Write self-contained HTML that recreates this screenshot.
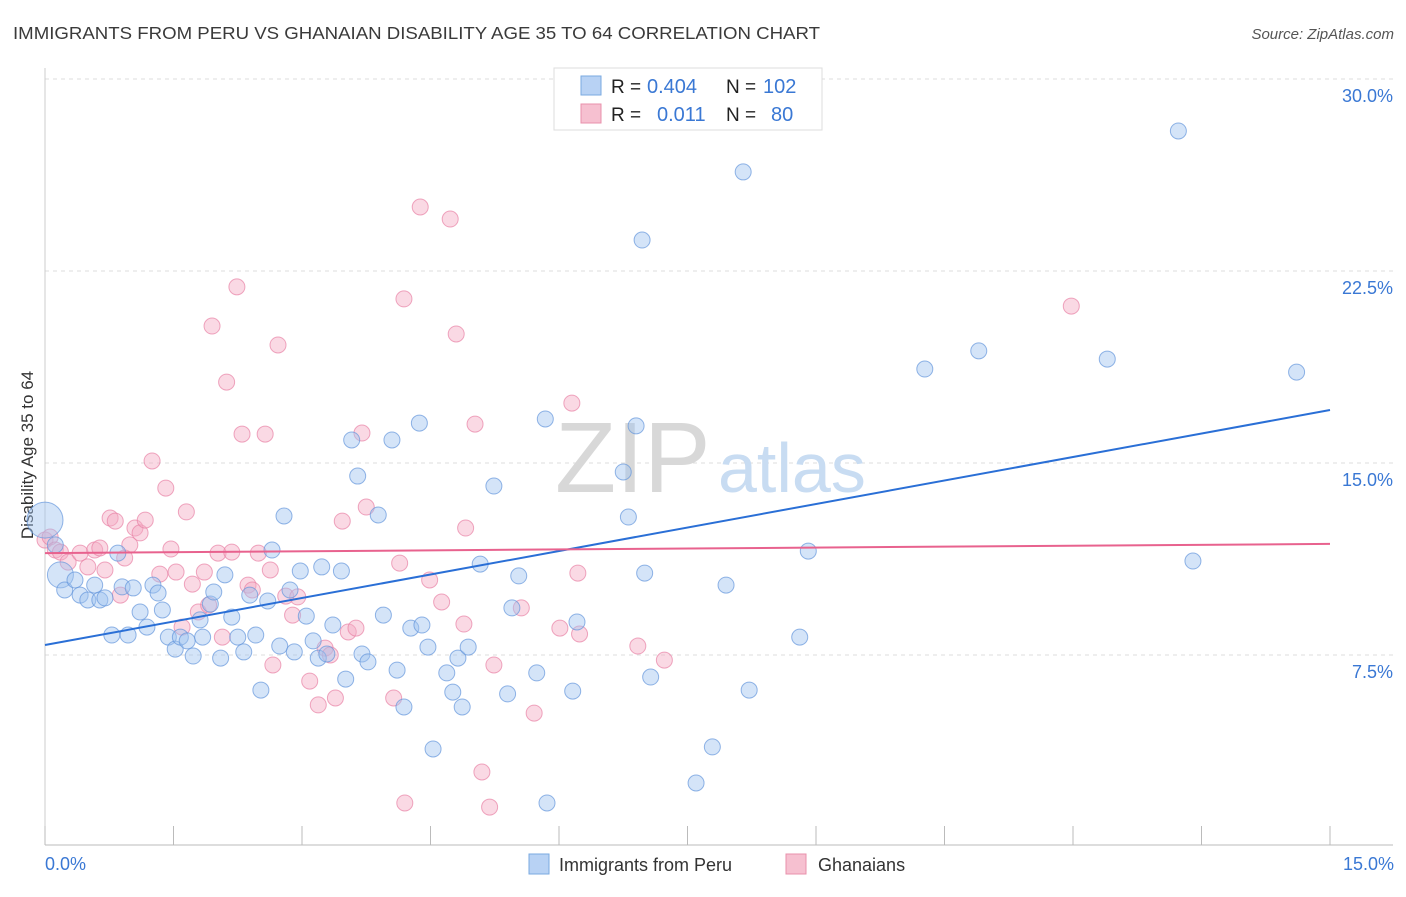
<!DOCTYPE html>
<html><head><meta charset="utf-8"><style>
body{margin:0;background:#fff;font-family:"Liberation Sans",sans-serif}
svg text{font-family:"Liberation Sans",sans-serif}
</style></head><body>
<svg id="chart" width="1406" height="892">
<text x="13" y="39" font-size="17.5" fill="#3a3a3a" textLength="807" lengthAdjust="spacingAndGlyphs">IMMIGRANTS FROM PERU VS GHANAIAN DISABILITY AGE 35 TO 64 CORRELATION CHART</text>
<text x="1394" y="39" font-size="15" fill="#555" font-style="italic" text-anchor="end">Source: ZipAtlas.com</text>
<text x="0" y="0" font-size="17" fill="#333" text-anchor="middle" transform="translate(33,455) rotate(-90)">Disability Age 35 to 64</text>
<g id="grid"></g>
<text x="555" y="492" font-size="100" fill="#d8d8d8" font-family="Liberation Serif">ZIP</text>
<text x="718" y="492" font-size="70" fill="#c8dcf2">atlas</text>
<g id="pts"></g>
<g id="lines"></g>
<g>
<rect x="554" y="68" width="268" height="62" fill="#fff" stroke="#ddd"/>
<rect x="581" y="76" width="20" height="19" fill="#b8d2f4" stroke="#7aaae0"/>
<rect x="581" y="104" width="20" height="19" fill="#f6c0d0" stroke="#e890ab"/>
<text x="611" y="93" font-size="19" fill="#222">R =</text>
<text x="647" y="93" font-size="20" fill="#3a78d4">0.404</text>
<text x="726" y="93" font-size="19" fill="#222">N =</text>
<text x="763" y="93" font-size="20" fill="#3a78d4">102</text>
<text x="611" y="121" font-size="19" fill="#222">R =</text>
<text x="657" y="121" font-size="20" fill="#3a78d4">0.011</text>
<text x="726" y="121" font-size="19" fill="#222">N =</text>
<text x="771" y="121" font-size="20" fill="#3a78d4">80</text>
</g>
<g>
<rect x="529" y="854" width="20" height="20" fill="#b8d2f4" stroke="#7aaae0"/>
<text x="559" y="871" font-size="18" fill="#333">Immigrants from Peru</text>
<rect x="786" y="854" width="20" height="20" fill="#f6c0d0" stroke="#e890ab"/>
<text x="818" y="871" font-size="18" fill="#333">Ghanaians</text>
</g>
</svg>
<script>
const yTicks=[7.5,15,22.5,30];
const yTickLabels=["7.5%","15.0%","22.5%","30.0%"];
const xTicks=[0,1.5,3,4.5,6,7.5,9,10.5,12,13.5,15];
const peruX=[0,.12,.18,.23,.35,.41,.5,.58,.64,.7,.78,.85,.9,.97,1.03,1.11,1.19,1.26,1.32,1.37,1.44,1.52,1.58,1.66,1.73,1.81,1.84,1.93,1.97,2.05,2.1,2.18,2.25,2.32,2.39,2.46,2.52,2.6,2.65,2.74,2.79,2.86,2.91,2.98,3.05,3.13,3.19,3.23,3.29,3.36,3.46,3.51,3.58,3.65,3.7,3.77,3.89,3.95,4.05,4.11,4.19,4.27,4.37,4.4,4.47,4.53,4.69,4.76,4.82,4.87,4.94,5.08,5.24,5.4,5.45,5.53,5.74,5.84,5.86,6.16,6.21,6.75,6.81,6.9,6.97,7,7.07,7.6,7.79,7.95,8.15,8.22,8.81,8.91,10.27,10.9,12.4,13.23,13.4,14.61];
const peruY=[12.77,11.8,10.63,10.04,10.43,9.84,9.65,10.23,9.65,9.73,8.28,11.48,10.16,8.28,10.12,9.18,8.59,10.23,9.92,9.26,8.2,7.73,8.2,8.05,7.46,8.87,8.2,9.49,9.96,7.38,10.63,8.98,8.2,7.62,9.84,8.28,6.13,9.61,11.6,7.85,12.93,10.04,7.62,10.78,9.02,8.05,7.38,10.94,7.54,8.67,10.78,6.56,15.9,14.49,7.54,7.23,12.97,9.06,15.9,6.91,5.47,8.55,16.56,8.67,7.81,3.83,6.8,6.05,7.38,5.47,7.81,11.05,14.1,5.98,9.34,10.59,6.8,16.72,1.72,6.09,8.79,14.65,12.89,16.45,23.71,10.7,6.64,2.5,3.91,10.23,26.37,6.13,8.2,11.56,18.67,19.38,19.06,27.97,11.17,18.55];
const ghX=[0,.06,.12,.18,.27,.41,.5,.58,.64,.7,.76,.82,.88,.93,.99,1.05,1.11,1.17,1.25,1.34,1.41,1.47,1.53,1.6,1.65,1.72,1.79,1.86,1.91,1.95,2.02,2.07,2.12,2.18,2.24,2.3,2.37,2.42,2.49,2.57,2.63,2.66,2.72,2.81,2.89,2.95,3.09,3.19,3.27,3.33,3.39,3.47,3.54,3.63,3.7,3.75,4.07,4.14,4.19,4.2,4.38,4.49,4.63,4.73,4.8,4.89,4.91,5.02,5.1,5.19,5.24,5.56,5.71,6.01,6.15,6.22,6.24,6.92,7.23,11.98];
const ghY=[11.99,12.11,11.6,11.52,11.13,11.48,10.94,11.6,11.68,10.82,12.85,12.73,9.84,11.29,11.8,12.46,12.27,12.77,15.08,10.66,14.02,11.64,10.74,8.59,13.09,10.27,9.18,10.74,9.45,20.35,11.48,8.2,18.16,11.52,21.88,16.13,10.23,10.04,11.48,16.13,10.82,7.11,19.61,9.8,9.06,9.77,6.48,5.55,7.77,7.5,5.82,12.73,8.4,8.55,16.17,13.28,5.82,11.09,21.41,1.72,25,10.43,9.57,24.53,20.04,8.71,12.46,16.52,2.93,1.56,7.11,9.34,5.23,8.55,17.34,10.7,8.32,7.85,7.3,21.13];
const peruTrend=[7.89,17.07];
const ghTrend=[11.48,11.84];
const NS="http://www.w3.org/2000/svg";
const xS=v=>45+v/15*1285;
const yS=v=>847-v/7.5*192;
function mk(tag,attrs,parent){const e=document.createElementNS(NS,tag);for(const k in attrs)e.setAttribute(k,attrs[k]);parent.appendChild(e);return e;}
const grid=document.getElementById('grid'),pts=document.getElementById('pts'),lines=document.getElementById('lines');
yTicks.forEach((t,i)=>{
 const l=mk('line',{x1:45,x2:1393,y1:yS(t),y2:yS(t),stroke:'#dcdcdc','stroke-dasharray':'4,4'},grid);
 
 
 const tx=mk('text',{x:1393,y:yS(t)+23,'font-size':18,fill:'#3a78d4','text-anchor':'end'},grid);
 tx.textContent=yTickLabels[i];
 
 
});
const ax=mk('line',{x1:45,x2:1393,y1:845,y2:845,stroke:'#bbb'},grid);


const ay=mk('line',{x1:45,x2:45,y1:68,y2:845,stroke:'#ccc'},grid);


xTicks.forEach(t=>{
 const l=mk('line',{x1:xS(t),x2:xS(t),y1:826,y2:845,stroke:'#bbb'},grid);
 
 
});
const xl0=mk('text',{x:45,y:870,'font-size':18,fill:'#3a78d4'},grid);xl0.textContent='0.0%';


const xl1=mk('text',{x:1394,y:870,'font-size':18,fill:'#3a78d4','text-anchor':'end'},grid);xl1.textContent='15.0%';


ghX.forEach((x,i)=>{
 const c=mk('circle',{cx:xS(x),cy:yS(ghY[i]),r:8,fill:'rgba(244,170,195,0.45)',stroke:'rgba(232,130,165,0.7)','stroke-width':1},pts);
 
 
});
peruX.forEach((x,i)=>{
 const r=i===0?18:(i===2?13:8);
 const c=mk('circle',{cx:xS(x),cy:yS(peruY[i]),r:r,fill:'rgba(160,196,240,0.45)',stroke:'rgba(100,150,220,0.7)','stroke-width':1},pts);
 
 
});
const pl=mk('line',{x1:xS(0),x2:xS(15),y1:yS(peruTrend[0]),y2:yS(peruTrend[1]),stroke:'#2a6fd6','stroke-width':2},lines);


const gl=mk('line',{x1:xS(0),x2:xS(15),y1:yS(ghTrend[0]),y2:yS(ghTrend[1]),stroke:'#e8628e','stroke-width':2},lines);


</script>
</body></html>
